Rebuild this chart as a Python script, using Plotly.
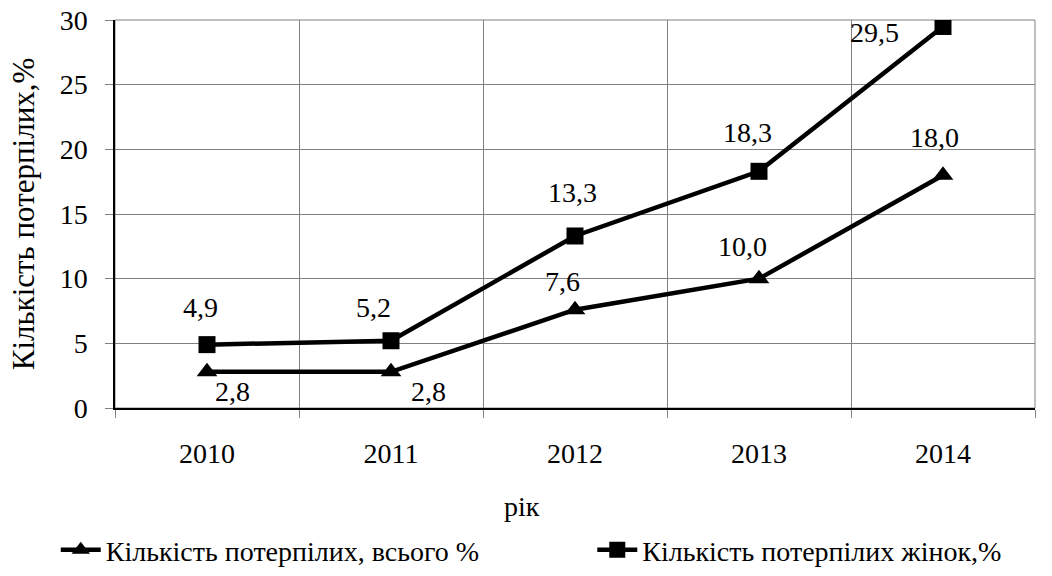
import plotly.graph_objects as go

years = ["2010", "2011", "2012", "2013", "2014"]
total = [2.8, 2.8, 7.6, 10.0, 18.0]
women = [4.9, 5.2, 13.3, 18.3, 29.5]
total_labels = ["2,8", "2,8", "7,6", "10,0", "18,0"]
women_labels = ["4,9", "5,2", "13,3", "18,3", "29,5"]
# label pixel offsets (dx, dy up)
total_off = [(25, -20), (37, -20), (-13, 28), (-17, 32), (-9, 38)]
women_off = [(-7, 37), (-18, 33), (-3, 43), (-12, 39), (-69, -6)]

y_ticks = [0, 5, 10, 15, 20, 25, 30]

FONT = "Liberation Serif, Times New Roman, serif"
FS = 28

fig = go.Figure()
fig.add_trace(go.Scatter(
    x=years, y=total, mode="lines+markers",
    name="Кількість потерпілих, всього %",
    line=dict(color="black", width=4.5),
    marker=dict(symbol="triangle-up", size=18, color="black"),
    legend="legend",
))
fig.add_trace(go.Scatter(
    x=years, y=women, mode="lines+markers",
    name="Кількість потерпілих жінок,%",
    line=dict(color="black", width=4.5),
    marker=dict(symbol="square", size=17, color="black"),
    legend="legend2",
))

for ys, labs, offs in [(total, total_labels, total_off),
                       (women, women_labels, women_off)]:
    for i, (yv, lab, (dx, dy)) in enumerate(zip(ys, labs, offs)):
        fig.add_annotation(x=i, y=yv, xref="x", yref="y", text=lab, showarrow=False,
                           xshift=dx, yshift=dy,
                           font=dict(family=FONT, size=FS, color="black"))

# x axis title
fig.add_annotation(x=0.442, y=-0.253, xref="paper", yref="paper", text="рік",
                   showarrow=False, yanchor="middle",
                   font=dict(family=FONT, size=FS, color="black"))

# plot border (top/right gray)
fig.add_shape(type="rect", xref="x domain", yref="y domain",
              x0=0, x1=1, y0=0, y1=1, line=dict(color="#808080", width=1),
              layer="below")

leg_common = dict(orientation="h", xref="container", yref="container",
                  xanchor="left", y=0.045, yanchor="middle",
                  font=dict(family=FONT, size=FS, color="black"), itemwidth=40)

fig.update_layout(
    width=1052, height=576,
    margin=dict(l=115, r=17, t=20, b=168, autoexpand=False),
    paper_bgcolor="white", plot_bgcolor="white",
    font=dict(family=FONT, size=FS, color="black"),
    showlegend=True,
    legend=dict(x=0.053, **leg_common),
    legend2=dict(x=0.563, **leg_common),
)
fig.update_xaxes(
    type="category", range=[-0.5, 4.5], tickson="boundaries", automargin=False,
    showgrid=True, gridcolor="#808080", gridwidth=1,
    showline=True, linecolor="black", linewidth=1.5,
    ticks="outside", ticklen=8, tickcolor="#808080",
    ticklabelstandoff=20, tickfont=dict(color="black"),
)
fig.update_yaxes(
    range=[0, 30], tickvals=y_ticks, ticktext=[str(v) for v in y_ticks], automargin=False,
    showgrid=True, gridcolor="#808080", gridwidth=1,
    showline=True, linecolor="black", linewidth=1.5,
    ticks="outside", ticklen=8, tickcolor="#808080",
    ticklabelstandoff=12, zeroline=False, tickfont=dict(color="black"),
    title=dict(text="Кількість потерпілих,%", font=dict(family=FONT, size=31), standoff=16),
)

fig.write_html("out.html", config={"displayModeBar": False},
               post_script="document.body.style.margin='0';")
